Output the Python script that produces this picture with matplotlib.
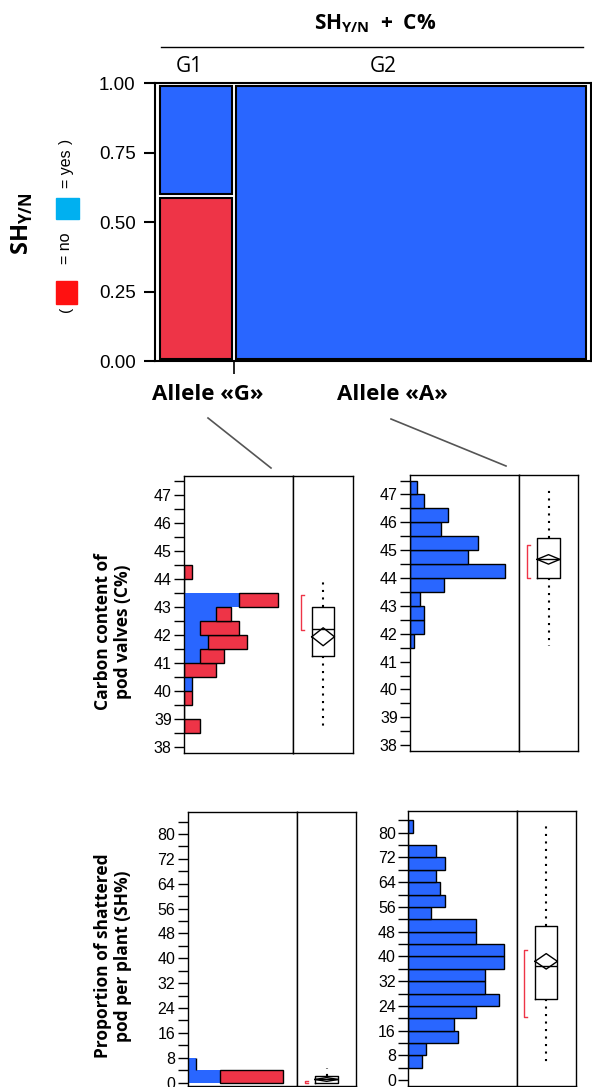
import matplotlib
matplotlib.use("Agg")
import matplotlib.pyplot as plt
from matplotlib.patches import Rectangle
from matplotlib.lines import Line2D
from matplotlib.ticker import MultipleLocator

plt.rcParams['font.family'] = ['Liberation Sans', 'DejaVu Sans']
plt.rcParams['mathtext.fontset'] = 'custom'
plt.rcParams['mathtext.bf'] = 'Open Sans:bold'
plt.rcParams['mathtext.rm'] = 'Open Sans'

BLUE = '#2966FF'
RED = '#EE3447'

# mosaic: share of plants per group
groups = ['G1', 'G2']
group_share = [0.172, 0.828]

# C% histograms, bin lower edges (0.5 wide)
c_bins_g = [38.5, 39.0, 39.5, 40.0, 40.5, 41.0, 41.5, 42.0, 42.5, 43.0, 43.5, 44.0]
c_yes_g = [0, 0, 0, 1, 0, 2, 3, 2, 4, 7, 0, 0]
c_no_g = [2, 0, 1, 0, 4, 3, 5, 5, 2, 5, 0, 1]
c_bins_a = [41.5, 42.0, 42.5, 43.0, 43.5, 44.0, 44.5, 45.0, 45.5, 46.0, 46.5, 47.0]
c_yes_a = [1, 4, 4, 3, 10, 28, 17, 20, 9, 11, 4, 2]

# SH% histograms, bin lower edges (4 wide)
sh_bins_g = [0, 4]
sh_yes_g = [4, 1]
sh_no_g = [8, 0]
sh_bins_a = [4, 8, 12, 16, 20, 24, 28, 32, 36, 40, 44, 48, 52, 56, 60, 64, 68, 72, 76, 80]
sh_yes_a = [3, 4, 11, 10, 15, 20, 17, 17, 21, 21, 15, 15, 5, 8, 7, 6, 8, 6, 0, 1]

# box plot summaries: quartiles/whiskers, mean, mean CI half width, shortest half
c_box_g = dict(q1=41.25, med=42.24, q3=43.0, whislo=38.75, whishi=44.1)
c_mean_g, c_ci_g, c_short_g = 41.95, 0.32, (42.18, 43.43)
c_box_a = dict(q1=44.0, med=44.67, q3=45.42, whislo=41.56, whishi=47.15)
c_mean_a, c_ci_a, c_short_a = 44.67, 0.17, (44.0, 45.19)
sh_box_g = dict(q1=0.0, med=1.0, q3=2.2, whislo=0.0, whishi=4.8)
sh_mean_g, sh_ci_g, sh_short_g = 1.0, 0.6, (0.0, 0.4)
sh_box_a = dict(q1=26.1, med=36.9, q3=49.9, whislo=5.6, whishi=82.4)
sh_mean_a, sh_ci_a, sh_short_a = 38.4, 2.5, (20.3, 42.0)

W, H = 592, 1087
fig = plt.figure(figsize=(W / 100, H / 100), dpi=100)


def px(x0, y0, x1, y1):
    return [x0 / W, 1 - y1 / H, (x1 - x0) / W, (y1 - y0) / H]


# ---------------- mosaic ----------------
ax = fig.add_axes(px(155, 83.3, 591, 361))
no_g = sum(c_no_g) / (sum(c_no_g) + sum(c_yes_g))
no_share = [no_g, 0.0]
pad, gap, vgap = 0.011, 0.009, 0.014
usable = 1 - 2 * pad - gap
left = pad
edges = []
for g, share, ns in zip(groups, group_share, no_share):
    w = share * usable
    if ns > 0:
        ax.bar(left, ns - vgap / 2 - 0.008, width=w, bottom=0.008, align='edge',
               color=RED, edgecolor='black', lw=1.5)
        ax.bar(left, 0.992 - ns - vgap / 2, width=w, bottom=ns + vgap / 2, align='edge',
               color=BLUE, edgecolor='black', lw=1.5)
    else:
        ax.bar(left, 0.984, width=w, bottom=0.008, align='edge',
               color=BLUE, edgecolor='black', lw=1.5)
    edges.append(left + w)
    left += w + gap
ax.set_xlim(0, 1)
ax.set_ylim(0, 1)
ax.set_yticks([0, 0.25, 0.5, 0.75, 1.0])
ax.set_yticklabels(['0.00', '0.25', '0.50', '0.75', '1.00'])
ax.set_xticks([edges[0] + gap / 2])
ax.set_xticklabels([''])
ax.tick_params(axis='y', direction='out', length=8, width=1.5, labelsize=13.5, pad=6)
ax.tick_params(axis='x', direction='out', length=9, width=1.2)
for s in ax.spines.values():
    s.set_linewidth(1.5)

fig.text(375 / W, 1 - 24 / H, r'$\mathbf{SH}_{\mathbf{Y/N}}$  +  $\mathbf{C\%}$',
         ha='center', va='center', fontsize=15, fontweight='bold', family='Open Sans')
fig.add_artist(Line2D([161 / W, 583 / W], [1 - 47 / H, 1 - 47 / H], color='black', lw=1))
fig.text(189 / W, 1 - 67 / H, 'G1', ha='center', va='center', fontsize=15, family='Open Sans')
fig.text(383 / W, 1 - 67 / H, 'G2', ha='center', va='center', fontsize=15, family='Open Sans')

fig.text(22 / W, 1 - 224 / H, r'$\mathbf{SH}_{\mathbf{Y/N}}$', rotation=90,
         ha='center', va='center', fontsize=17)
fig.text(66 / W, 1 - 309 / H, '(', rotation=90, ha='center', va='center', fontsize=11)
fig.add_artist(Rectangle((56 / W, 1 - 304 / H), 21 / W, 23 / H, color='#FF1111',
                         transform=fig.transFigure))
fig.text(66 / W, 1 - 248 / H, '= no', rotation=90, ha='center', va='center', fontsize=11.5)
fig.add_artist(Rectangle((56 / W, 1 - 219 / H), 23 / W, 21 / H, color='#00B0F0',
                         transform=fig.transFigure))
fig.text(66 / W, 1 - 169 / H, '= yes', rotation=90, ha='center', va='center', fontsize=11.5)
fig.text(66 / W, 1 - 141 / H, ')', rotation=90, ha='center', va='center', fontsize=11)

fig.text(208 / W, 1 - 395 / H, 'Allele «G»', ha='center', va='center', fontsize=16,
         fontweight='bold', family='Open Sans')
fig.text(392 / W, 1 - 395 / H, 'Allele «A»', ha='center', va='center', fontsize=16,
         fontweight='bold', family='Open Sans')
fig.add_artist(Line2D([208 / W, 271 / W], [1 - 418 / H, 1 - 468 / H], color='#555555', lw=1.2))
fig.add_artist(Line2D([391 / W, 506 / W], [1 - 419 / H, 1 - 466 / H], color='#555555', lw=1.2))


# ---------------- histograms + box plots ----------------
def hist_panel(rect, bins, bw, yes, no, xmax, ylim, major, minor):
    a = fig.add_axes(rect)
    if no is None:
        a.barh(bins, yes, height=bw, align='edge', color=BLUE, edgecolor='black', lw=1)
    else:
        a.barh(bins, yes, height=bw, align='edge', color=BLUE, edgecolor='none')
        a.barh(bins, no, height=bw, left=yes, align='edge', color=RED,
               edgecolor='black', lw=1)
    a.set_xlim(0, xmax)
    a.set_ylim(*ylim)
    a.set_xticks([])
    a.yaxis.set_major_locator(MultipleLocator(major))
    a.yaxis.set_minor_locator(MultipleLocator(minor))
    a.tick_params(axis='y', which='both', direction='out', length=7, width=1,
                  labelsize=11.5, pad=2)
    for s in a.spines.values():
        s.set_linewidth(1)
    return a


def box_panel(rect, stats, mean, ci, short, ylim, width, bx):
    a = fig.add_axes(rect)
    st = dict(stats)
    st['fliers'] = []
    a.bxp([st], positions=[0.5], widths=[width], showcaps=False,
          boxprops=dict(color='black', lw=1),
          medianprops=dict(color='black', lw=1),
          whiskerprops=dict(color='black', lw=1.5, linestyle=(0, (1, 2.6))))
    hw = width / 2
    a.plot([0.5 - hw, 0.5, 0.5 + hw, 0.5, 0.5 - hw],
           [mean, mean + ci, mean, mean - ci, mean], color='black', lw=1)
    a.plot([bx + 0.045, bx, bx, bx + 0.045], [short[0], short[0], short[1], short[1]],
           color=RED, lw=1)
    a.set_xlim(0, 1)
    a.set_ylim(*ylim)
    a.set_xticks([])
    a.set_yticks([])
    for s in a.spines.values():
        s.set_linewidth(1)
    return a


c_ylim = (37.8, 47.7)
hist_panel(px(184.3, 475.7, 293.3, 753), c_bins_g, 0.5, c_yes_g, c_no_g, 13.9,
           c_ylim, 1, 0.5)
box_panel(px(293.3, 475.7, 353, 753), c_box_g, c_mean_g, c_ci_g, c_short_g,
          c_ylim, 0.38, 0.13)
hist_panel(px(410.3, 475, 519.3, 750.7), c_bins_a, 0.5, c_yes_a, None, 32.1,
           c_ylim, 1, 0.5)
box_panel(px(519.3, 475, 577.7, 750.7), c_box_a, c_mean_a, c_ci_a, c_short_a,
          c_ylim, 0.39, 0.13)

sh_ylim_g = (-1.1, 87)
sh_ylim_a = (-1.9, 87)
hist_panel(px(187.7, 812.3, 297.3, 1086), sh_bins_g, 4, sh_yes_g, sh_no_g, 13.76,
           sh_ylim_g, 8, 4)
box_panel(px(297.3, 812.3, 356, 1086), sh_box_g, sh_mean_g, sh_ci_g, sh_short_g,
          sh_ylim_g, 0.40, 0.13)
hist_panel(px(408.3, 811, 516.7, 1086), sh_bins_a, 4, sh_yes_a, None, 23.9,
           sh_ylim_a, 8, 4)
box_panel(px(516.7, 811, 575.7, 1086), sh_box_a, sh_mean_a, sh_ci_a, sh_short_a,
          sh_ylim_a, 0.38, 0.13)

fig.text(113 / W, 1 - 632 / H, 'Carbon content of\npod valves (C%)', rotation=90,
         ha='center', va='center', multialignment='center', fontsize=12.5,
         fontweight='bold', family='Open Sans', linespacing=1.15)
fig.text(113 / W, 1 - 956 / H, 'Proportion of shattered\npod per plant (SH%)', rotation=90,
         ha='center', va='center', multialignment='center', fontsize=12.5,
         fontweight='bold', family='Open Sans', linespacing=1.15)

fig.savefig('out.png', dpi=100)
